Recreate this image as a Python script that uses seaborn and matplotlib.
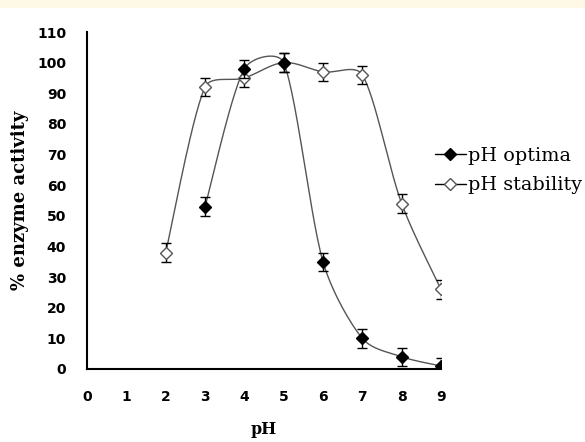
import numpy as np
import pandas as pd
import matplotlib.pyplot as plt
import seaborn as sns
from matplotlib.lines import Line2D
from matplotlib.patches import Rectangle

# pH optima series
ph_opt = [3, 4, 5, 6, 7, 8, 9]
act_opt = [53, 98, 100, 35, 10, 4, 1]
err_opt = [3, 3, 3, 3, 3, 3, 2.5]

# pH stability series
ph_stab = [2, 3, 4, 5, 6, 7, 8, 9]
act_stab = [38, 92, 95, 100, 97, 96, 54, 26]
err_stab = [3, 3, 3, 3, 3, 3, 3, 3]

x_ticks = list(range(0, 10))
y_ticks = list(range(0, 111, 10))


def smooth(x, y, sx=39.3, sy=3.064, n=30):
    # Excel style smoothed line: bezier segments, tangents from the neighbours
    p = np.column_stack([np.asarray(x, float) * sx, np.asarray(y, float) * sy])
    m = len(p)
    t = np.linspace(0, 1, n)[1:, None]
    out = [p[:1]]
    for i in range(m - 1):
        a, b = p[i], p[i + 1]
        L = np.hypot(*(b - a))
        d0 = p[min(i + 1, m - 1)] - p[max(i - 1, 0)]
        d1 = p[min(i + 2, m - 1)] - p[i]
        n0, n1 = np.hypot(*d0), np.hypot(*d1)
        c0 = a + d0 / n0 * min(L / 3, n0 / 6)
        c1 = b - d1 / n1 * min(L / 3, n1 / 6)
        seg = ((1 - t) ** 3) * a + 3 * ((1 - t) ** 2) * t * c0 \
            + 3 * (1 - t) * t ** 2 * c1 + t ** 3 * b
        out.append(seg)
    q = np.vstack(out)
    return pd.DataFrame({'pH': q[:, 0] / sx, 'act': q[:, 1] / sy})


sns.set_style('white')
plt.rcParams['text.color'] = 'black'
plt.rcParams['xtick.color'] = 'black'
plt.rcParams['ytick.color'] = 'black'
plt.rcParams['axes.labelcolor'] = 'black'

fig = plt.figure(figsize=(5.85, 4.42), dpi=100)
ax = fig.add_axes([87 / 585, 1 - 369 / 442, 354 / 585, 337 / 442])

# cream strip at the top of the page
fig.patches.append(Rectangle((0, 1 - 7 / 442), 1, 7 / 442, transform=fig.transFigure,
                             color='#fef9e6', zorder=0))

line_col = '#555555'
sns.lineplot(data=smooth(ph_stab, act_stab), x='pH', y='act', sort=False,
             estimator=None, color=line_col, lw=1, ax=ax)
sns.lineplot(data=smooth(ph_opt, act_opt), x='pH', y='act', sort=False,
             estimator=None, color=line_col, lw=1, ax=ax)

ax.errorbar(ph_stab, act_stab, yerr=err_stab, fmt='D', ms=6, mfc='white',
            mec=line_col, mew=1, ecolor='black', elinewidth=1, capsize=3.5,
            capthick=1, zorder=3)
ax.errorbar(ph_opt, act_opt, yerr=err_opt, fmt='D', ms=6, mfc='black',
            mec='black', ecolor='black', elinewidth=1, capsize=3.5,
            capthick=1, zorder=4)

ax.set_xlim(0, 9)
ax.set_ylim(0, 110)
ax.set_xticks(x_ticks)
ax.set_yticks(y_ticks)
ax.tick_params(length=0, labelsize=10)
ax.tick_params(axis='y', pad=15)
ax.tick_params(axis='x', pad=15)
for lab in ax.get_xticklabels() + ax.get_yticklabels():
    lab.set_fontweight('bold')
    lab.set_family('DejaVu Sans')

for s in ['top', 'right']:
    ax.spines[s].set_visible(False)
for s in ['left', 'bottom']:
    ax.spines[s].set_color('black')
    ax.spines[s].set_linewidth(1.5)

ax.set_xlabel('pH', family='DejaVu Serif', fontweight='bold', fontsize=11.5, va='center')
ax.set_ylabel('% enzyme activity', family='DejaVu Serif', fontweight='bold',
              fontsize=13, va='center')
ax.xaxis.set_label_coords(0.5, (369 - 430) / 337)
ax.yaxis.set_label_coords((20 - 87) / 354, 0.5)

handles = [
    Line2D([], [], color='black', lw=1, marker='D', ms=6, mfc='black', mec='black'),
    Line2D([], [], color='black', lw=1, marker='D', ms=6, mfc='white', mec=line_col),
]
fig.legend(handles, ['pH optima', 'pH stability'], loc='center left',
           bbox_to_anchor=(435 / 585, 1 - 170.5 / 442), frameon=False,
           prop={'family': 'DejaVu Serif', 'size': 13.8}, handlelength=1.6,
           handletextpad=0.1, labelspacing=0.62, borderpad=0, borderaxespad=0)

fig.savefig('out.png', dpi=100)
